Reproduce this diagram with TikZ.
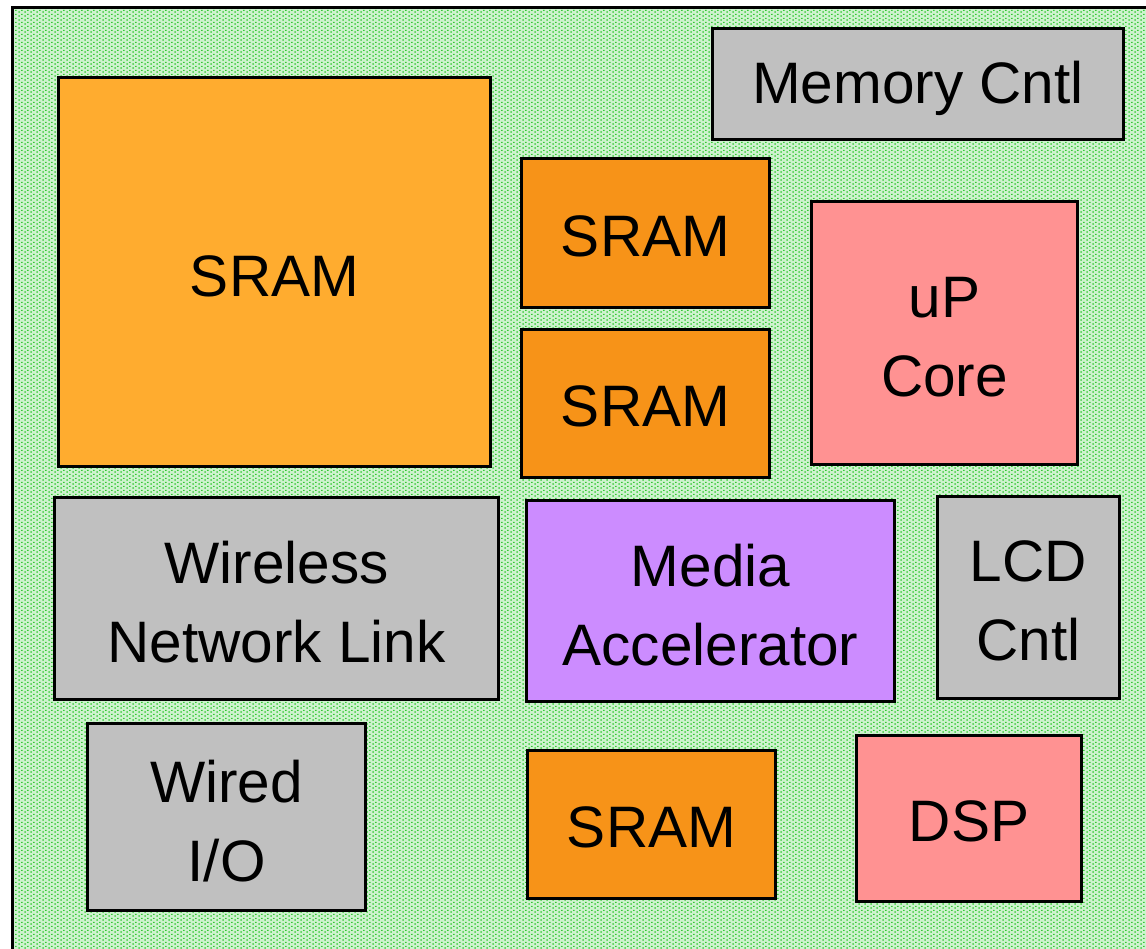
\documentclass[tikz,border=0pt]{standalone}
\usepackage{fontspec}
\setmainfont{Liberation Sans}
\usetikzlibrary{patterns}

\definecolor{sramA}{RGB}{255,172,47}
\definecolor{sramB}{RGB}{247,147,24}
\definecolor{greybox}{RGB}{192,192,192}
\definecolor{pinkbox}{RGB}{255,146,146}
\definecolor{violetbox}{RGB}{204,140,255}
\definecolor{diebg}{RGB}{206,242,206}
\definecolor{dotgreen}{RGB}{50,200,50}

% fine dotted green texture of the die background
\pgfdeclarepatternformonly{diedots}{\pgfqpoint{0pt}{0pt}}{\pgfqpoint{6pt}{4pt}}{\pgfqpoint{6pt}{4pt}}{%
  \pgfpathrectangle{\pgfqpoint{0.5pt}{0.5pt}}{\pgfqpoint{1.8pt}{1.4pt}}%
  \pgfpathrectangle{\pgfqpoint{3.5pt}{2.5pt}}{\pgfqpoint{1.8pt}{1.4pt}}%
  \pgfusepath{fill}%
}

\tikzset{
  block/.style={draw=black, line width=3pt, anchor=north west, inner sep=0pt},
  lbl/.style={align=center, inner sep=0pt, text=black, font=\fontsize{58.5}{79}\selectfont},
}

\begin{document}
\begin{tikzpicture}[x=1pt, y=-1pt]
  \useasboundingbox (0,0) rectangle (1146,948);
  \clip (0,0) rectangle (1146,948);

  % die outline and background
  \fill[white] (0,0) rectangle (1146,948);
  \fill[diebg] (12,7) rectangle (1170,970);
  \fill[pattern=diedots, pattern color=dotgreen] (12,7) rectangle (1170,970);
  \draw[line width=3pt] (12,7) rectangle (1170,970);

  % blocks: name / north-west corner / size
  \node[block, fill=sramA, minimum width=432pt, minimum height=389pt] (sramL) at (57,76) {};
  \node[block, fill=greybox, minimum width=411pt, minimum height=111pt] (memctl) at (711,27) {};
  \node[block, fill=sramB, minimum width=248pt, minimum height=149pt] (sramT) at (520,157) {};
  \node[block, fill=sramB, minimum width=248pt, minimum height=148pt] (sramM) at (520,328) {};
  \node[block, fill=pinkbox, minimum width=266pt, minimum height=263pt] (upcore) at (810,200) {};
  \node[block, fill=greybox, minimum width=444pt, minimum height=202pt] (wireless) at (53,496) {};
  \node[block, fill=violetbox, minimum width=368pt, minimum height=201pt] (media) at (525,499) {};
  \node[block, fill=greybox, minimum width=182pt, minimum height=202pt] (lcd) at (936,495) {};
  \node[block, fill=greybox, minimum width=278pt, minimum height=187pt] (wired) at (86,722) {};
  \node[block, fill=sramB, minimum width=248pt, minimum height=148pt] (sramB) at (526,749) {};
  \node[block, fill=pinkbox, minimum width=225pt, minimum height=166pt] (dsp) at (855,734) {};

  % block labels, set slightly below the geometric centre
  \node[lbl] (sramLt)    at ([yshift=-4pt]sramL.center)    {SRAM};
  \node[lbl] (memctlt)   at ([yshift=-4pt]memctl.center)   {Memory Cntl};
  \node[lbl] (sramTt)    at ([yshift=-3pt]sramT.center)    {SRAM};
  \node[lbl] (sramMt)    at ([yshift=-3pt]sramM.center)    {SRAM};
  \node[lbl] (upcoret)   at ([yshift=-4pt]upcore.center)   {uP\\Core};
  \node[lbl] (wirelesst) at ([yshift=-4pt]wireless.center) {Wireless\\Network Link};
  \node[lbl] (mediat)    at ([yshift=-4pt]media.center)    {Media\\Accelerator};
  \node[lbl] (lcdt)      at ([yshift=-3pt]lcd.center)      {LCD\\Cntl};
  \node[lbl] (wiredt)    at ([yshift=-4pt]wired.center)    {Wired\\I/O};
  \node[lbl] (sramBt)    at ([yshift=-3pt]sramB.center)    {SRAM};
  \node[lbl] (dspt)      at ([yshift=-3pt]dsp.center)      {DSP};
\end{tikzpicture}
\end{document}
